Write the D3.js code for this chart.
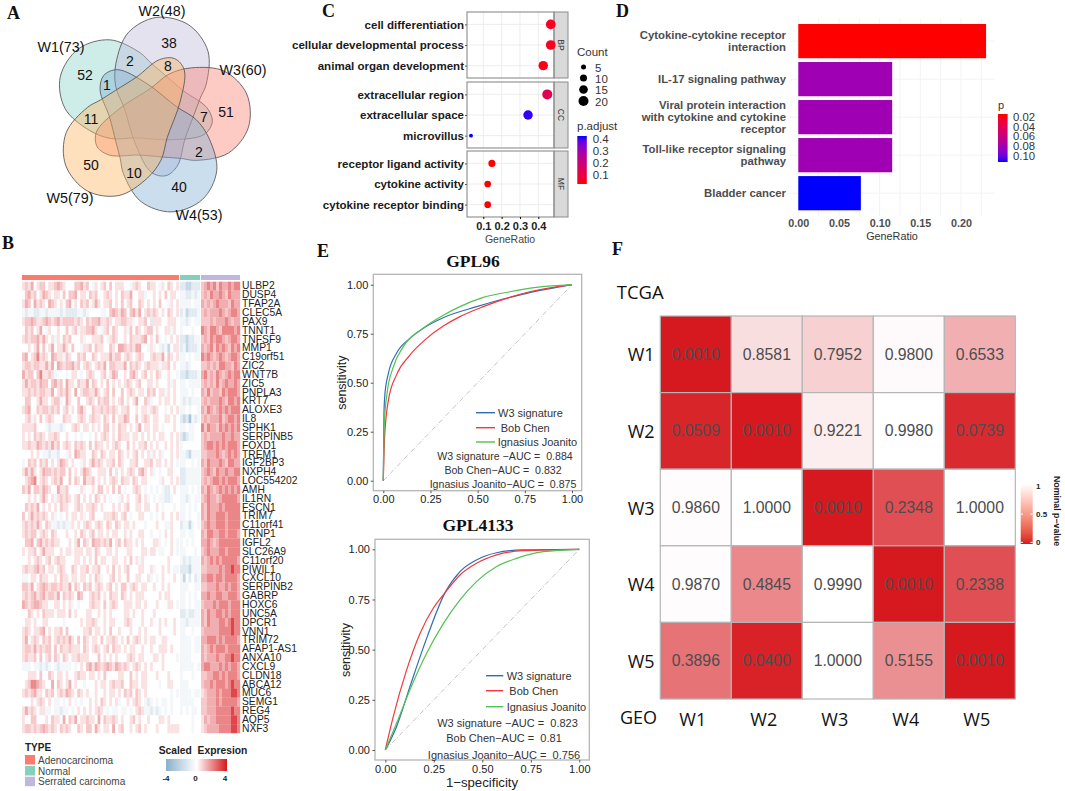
<!DOCTYPE html>
<html><head><meta charset="utf-8">
<script src="https://d3js.org/d3.v7.min.js"></script>
<style>
html,body{margin:0;padding:0;background:#fff}
text{font-family:"Liberation Sans",Arial,sans-serif;white-space:pre}
.panel{font-family:"Liberation Serif",serif;font-weight:bold;font-size:18px;fill:#111}
.axis .domain{display:none}
</style></head><body><svg id="c" width="1065" height="791" xmlns="http://www.w3.org/2000/svg"></svg>
<script>
// ---------- A: Venn ----------
const vennSets=["W1(73)","W2(48)","W3(60)","W4(53)","W5(79)"];
const vennColors=["#8dd3c7","#bebada","#fb8072","#80b1d3","#fdb462"];
const vennAngles=[303,13,87,158,230];
const vennPetal=[[-165,-85],[-165,-40],[-94,25],[4,82],[62,122],[130,137],[227,122],[291,50],[291,-50],[227,-124],[130,-141],[85,-133],[32,-126],[-43,-116],[-128,-112]];
const vennCounts=[["52",85,75],["38",169,43],["2",130,61],["8",168,66],["1",107,85],["7",204,117],["51",226,112],["11",91,119],["2",199,152],["50",91,165],["10",134,173],["40",179,187]];
const vennLabelPos=[[61,47],[162,11],[243,70],[199,215],[70,198]];
// ---------- B: heatmap (cell levels are visual estimates, 0=deep blue, 4=white, 9=deep red) ----------
const genes=["ULBP2","DUSP4","TFAP2A","CLEC5A","PAX9","TNNT1","TNFSF9","MMP1","C19orf51","ZIC2","WNT7B","ZIC5","PNPLA3","KRT7","ALOXE3","IL8","SPHK1","SERPINB5","FOXD1","TREM1","IGF2BP3","NXPH4","LOC554202","AMH","IL1RN","FSCN1","TRIM7","C11orf41","TRNP1","IGFL2","SLC26A9","C11orf20","PIWIL1","CXCL10","SERPINB2","GABRP","HOXC6","UNC5A","DPCR1","VNN1","TRIM72","AFAP1-AS1","ANXA10","CXCL9","CLDN18","ABCA12","MUC6","SEMG1","REG4","AQP5","NXF3"];
const heatLevelValues=[-3,-2,-1,-.4,0,.5,.95,1.4,2.1,3.2];
const heatGroups=["Adenocarcinoma","Normal","Serrated carcinoma"];
const heatGroupColors=["#fb7b6f","#85d0bd","#bfb8dc"];
const adenoRows=[
"565745664556765444667564354564645554435654465543546545",
"467564576545546466745546564456545465574455344545464554",
"576475654765454674546564575455645464564465454546443545",
"323322332333323222233234444334676576467574565654546545",
"566765567656756666565465667556545566553455642555445554",
"465645743544544645635566754356465445364654566454455354",
"565667575453546564445344555643565445465556745463434545",
"445457464574557546443556465544654776565774435343231455",
"674568565476553654465644654555756645654565445655746545",
"566566557574765667564565456574665557465654565553556454",
"756646855653444345543456544564576445467545645465445443",
"575665766467564755465574654546454545654564455454445354",
"556565665574565754745665575456464464565455465645535454",
"466445755456634754464456546566454564545744653445455454",
"567446566565645645467544655656565455644545535654434545",
"456354645654446554456545655465464557644645654554455454",
"555564443233323445654554545466454655454574554554344454",
"545465654556544544343443454565454655545545454545544545",
"556557656575645654656546465545456544645455645454454545",
"444545433233244354765544654654554654545645453545344545",
"346564656454576545443545756545564654455644556455454543",
"575754576656566464545765445554645454565467545343445544",
"456784565456574464654755645454565465546545544443544545",
"657466576544755644445344546645464643445654343434322454",
"445454575453565654564545465454344354544564534343322344",
"465657454545465544565455654544454545644554554454344434",
"645756565453434545545345644455565456434455443434544545",
"565657546533232335454565456546546545545444344454433544",
"565664565465444544546545645545455445454455443443454544",
"466746756565544454574654766565745646554545444553434543",
"545564575554454554555455465445545444554445545543344543",
"445456545645655444554545464554455445464535444444445444",
"565567564554565446545564556445464545644455445344545433",
"334554655445465545545545465344564544644554453434544454",
"665745676566565574654656456545645466456545544544545444",
"565675675665746565476445656454655465454555444445455444",
"765677655445545453434445655464565445554554544454445543",
"446545465554555464544455445454544445545445444544444444",
"455454455444443444445455654454554445654445445445454454",
"565455674545564644444556455454644544454454544445444454",
"574565465645656575464654554645565454645654545544554444",
"566575656646465565554654565456465545455445445445554544",
"565564645646546545565554446454545444565455444554544443",
"333433232343233334345467576567657656545654545444544444",
"445554644654554544565545545464444554464545544454445444",
"456887654474654574544344454554565564465545544443445544",
"565675546564565765465454454454554546564654544444444343",
"444545654543343454343445454654545344545654323434334344",
"575654553343323343454545456543433433434565332323434344",
"544664445465547465745565547465565454456454454445545444",
"566565676565465654465466475455474564454564544454445555"];
const normalRows=[
"2211222","3322323","3333433","2312223","3323433","3444344","2212233","2312223","3343433","3323444","2212223","3343333","3334344","3232333","3343443","2120323","3343344","2123344","3444444","3321333","3344343","2233333","2233333","3334343","3323433","3343434","3343443","2331343","3343344","3434344","3344434","3232333","2221333","3142423","3334433","3343434","3343433","2232233","3323333","3344344","3333433","3333433","3333444","3333343","3444344","3334444","3333433","3333344","3434334","4444344","4444344"];
const serratedRows=[
"6787868778788","6768778768777","7676787776877","6767778767887","6667677787677","8768876888878","6768788767887","7678687876878","8787678767887","6676768877687","7867687678788","6767686787787","7686776878887","6767778768878","7687678787888","6767778678878","8687768787878","6767777877877","6788787878887","6677787678787","7687778768877","6787687787788","6767887878887","7687678787878","6787767888887","7687778788888","7687788878888","6787788878888","7688778878887","7787678888888","6787778878888","7678787888887","6677778788988","7788788788887","6677787787887","7787788778887","6777878887888","7687788787888","7687778878988","6777778888988","7788878788887","7678788878888","7677787788988","7887778787887","6677887878887","6778788878988","5677787888998","6677787888887","6677788888988","5767788888998","5677778888998"];
// ---------- C: dot plot ----------
const dotFacets=["BP","CC","MF"];
const dotTerms=[["cell differentiation","cellular developmental process","animal organ development"],["extracellular region","extracellular space","microvillus"],["receptor ligand activity","cytokine activity","cytokine receptor binding"]];
const dotRatio=[[.468,.468,.427],[.449,.344,.033],[.147,.124,.124]];
const dotCount=[[19,19,18],[20,18,3],[10,9,9]];
const dotPadj=[[.04,.04,.03],[.12,.42,.43],[.01,.01,.01]];
const dotTicks=[.1,.2,.3,.4];
const countLegend=[5,10,15,20];
const padjLegend=[.4,.3,.2,.1];
// ---------- D: bar chart ----------
const barTerms=["Cytokine-cytokine receptor\ninteraction","IL-17 signaling pathway","Viral protein interaction\nwith cytokine and cytokine\nreceptor","Toll-like receptor signaling\npathway","Bladder cancer"];
const barRatio=[.2308,.1154,.1154,.1154,.0769];
const barP=[.01,.079,.079,.079,.11];
const barTicks=[0,.05,.1,.15,.2];
const barPLegend=[.02,.04,.06,.08,.10];
// ---------- E: ROC ----------
const rocNames=["W3 signature","Bob Chen","Ignasius Joanito"];
const rocColors=["#2f6db3","#f2383c","#52c152"];
const roc1=[
[[0,0],[.0035,.344],[.009,.446],[.027,.548],[.07,.65],[.14,.726],[.21,.777],[.32,.833],[.495,.888],[.583,.913],[.76,.956],[1,1]],
[[0,0],[.007,.224],[.027,.41],[.07,.54],[.14,.64],[.23,.726],[.32,.79],[.406,.837],[.53,.888],[.636,.925],[.76,.96],[1,1]],
[[0,0],[.005,.29],[.02,.446],[.053,.58],[.106,.684],[.21,.777],[.32,.845],[.406,.888],[.53,.935],[.67,.964],[.81,.986],[1,1]]];
const roc2=[
[[0,0],[.058,.116],[.127,.316],[.213,.556],[.308,.784],[.385,.889],[.47,.947],[.574,.983],[.71,.997],[1,1]],
[[0,0],[.041,.166],[.11,.399],[.179,.581],[.247,.706],[.308,.784],[.385,.872],[.47,.93],[.574,.972],[.71,.993],[1,1]],
[[0,0],[.058,.133],[.127,.3],[.213,.482],[.3,.631],[.385,.748],[.47,.839],[.574,.914],[.677,.955],[.814,.988],[1,1]]];
const rocAuc1=["W3 signature −AUC =  0.884","Bob Chen−AUC =  0.832","Ignasius Joanito−AUC =  0.875"];
const rocAuc2=["W3 signature −AUC =  0.823","Bob Chen−AUC =  0.81","Ignasius Joanito−AUC =  0.756"];
const rocTicks=[0,.25,.5,.75,1];
// ---------- F: matrix ----------
const subclasses=["W1","W2","W3","W4","W5"];
const pMatrix=[[.0010,.8581,.7952,.9800,.6533],[.0509,.0010,.9221,.9980,.0739],[.9860,1,.0010,.2348,1],[.9870,.4845,.9990,.0010,.2338],[.3896,.0400,1,.5155,.0010]];
const pLegend=[1,.5,0];

const svg=d3.select("#c");
const defs=svg.append("defs");
function txt(g,s,x,y,o={}){const t=g.append("text").attr("x",x).attr("y",y).attr("dominant-baseline","central").attr("font-size",o.size||11).attr("font-weight",o.bold?"bold":"normal").attr("text-anchor",o.anchor||"start").attr("fill",o.fill||"#222").text(s);if(o.family)t.style("font-family",o.family);return t}
function grad(id,a,b){const g=defs.append("linearGradient").attr("id",id).attr("x1",0).attr("x2",0).attr("y1",0).attr("y2",1);const f=d3.interpolateLab(a,b);d3.range(0,1.01,.1).forEach(t=>g.append("stop").attr("offset",t).attr("stop-color",f(t)))}
[["A",7,19],["B",2,249],["C",322,17],["D",616,17],["E",317,257],["F",612,255]].forEach(p=>svg.append("text").attr("class","panel").attr("x",p[1]).attr("y",p[2]).text(p[0]));

// A
(function(){
 const g=svg.append("g"),cx=150.7,cy=115.7,k=1/3;
 const line=d3.line().curve(d3.curveCatmullRomClosed.alpha(.5));
 vennAngles.forEach((deg,i)=>{const t=deg*Math.PI/180,s=Math.sin(t),c=Math.cos(t);
  g.append("path").attr("d",line(vennPetal.map(([u,v])=>[cx+(u*s-v*c)*k,cy+(-u*c-v*s)*k]))).attr("fill",vennColors[i]).attr("fill-opacity",.42).attr("stroke","#555").attr("stroke-opacity",.85).attr("stroke-width",1);});
 vennCounts.forEach(d=>txt(g,d[0],d[1],d[2],{size:14,anchor:"middle",fill:"#111"}));
 vennSets.forEach((d,i)=>txt(g,d,vennLabelPos[i][0],vennLabelPos[i][1],{size:14.3,anchor:"middle",fill:"#111"}));
})();

// B
(function(){
 const g=svg.append("g");
 const y=d3.scaleBand().domain(genes).range([281.7,733]);
 const color=d3.scaleLinear().domain([-4,0,4]).range(["#8ab0cc","#ffffff","#d7181c"]);
 const extents=[[22,179],[180,200],[201,240]];
 [adenoRows,normalRows,serratedRows].forEach((rows,gi)=>{
  const [a,b]=extents[gi];
  g.append("rect").attr("x",a).attr("y",275).attr("width",b-a).attr("height",5).attr("fill",heatGroupColors[gi]);
  rows.forEach((r,ri)=>{
   const x=d3.scaleLinear().domain([0,r.length]).range([a,b]);
   g.selectAll(null).data(r.split("")).join("rect").attr("x",(d,i)=>x(i)).attr("y",y(genes[ri])).attr("width",x(1)-x(0)+.2).attr("height",y.bandwidth()+.2).attr("fill",d=>color(heatLevelValues[+d]));
  });
 });
 const ax=g.append("g").attr("class","axis").attr("transform","translate(240,0)").call(d3.axisRight(y).tickSize(0).tickPadding(2));
 ax.selectAll("text").attr("font-size",10.3).attr("fill","#222");
 txt(g,"TYPE",25,747,{size:10,bold:true});
 heatGroups.forEach((n,i)=>{const yy=[755,766,776.7][i];
  g.append("rect").attr("x",25).attr("y",yy).attr("width",10).attr("height",9.5).attr("fill",heatGroupColors[i]);
  txt(g,n,38,yy+5,{size:10,fill:"#444"});});
 txt(g,"Scaled  Expresion",158.7,750,{size:10.3,bold:true});
 defs.append("linearGradient").attr("id","exprG").selectAll("stop").data(d3.range(-4,4.01,.5)).join("stop").attr("offset",d=>(d+4)/8).attr("stop-color",d=>color(d));
 g.append("rect").attr("x",166).attr("y",759).attr("width",61).attr("height",12).attr("fill","url(#exprG)");
 const lg=d3.scaleLinear().domain([-4,4]).range([166,225]);
 [-4,0,4].forEach(d=>txt(g,d,lg(d),778,{size:8,bold:true,anchor:"middle"}));
})();

// C
(function(){
 const g=svg.append("g"),L=467,R=554,S=568;
 const facetY=[[12,78],[82,148],[151,217]];
 const x=d3.scaleLinear().domain([.1,.4]).range([483.3,538.3]);
 const r=d3.scaleSqrt().domain([0,20]).range([0,5]);
 const col=d3.scaleLinear().domain([.01,.43]).range(["#ff0000","#0000ff"]).interpolate(d3.interpolateLab);
 dotFacets.forEach((f,i)=>{
  const [t,b]=facetY[i];
  const y=d3.scalePoint().domain(dotTerms[i]).range([t,b]).padding(.6);
  g.selectAll(null).data(dotTicks).join("line").attr("x1",x).attr("x2",x).attr("y1",t).attr("y2",b).attr("stroke","#ededed");
  g.selectAll(null).data(dotTerms[i]).join("line").attr("x1",L).attr("x2",R).attr("y1",y).attr("y2",y).attr("stroke","#ededed");
  g.append("rect").attr("x",R).attr("y",t).attr("width",S-R).attr("height",b-t).attr("fill","#d9d9d9").attr("stroke","#8c8c8c");
  g.append("rect").attr("x",L).attr("y",t).attr("width",R-L).attr("height",b-t).attr("fill","none").attr("stroke","#8c8c8c").attr("stroke-width",1.1);
  const sy=(t+b)/2;
  g.append("text").attr("transform",`translate(${R+7},${sy}) rotate(90)`).attr("text-anchor","middle").attr("dominant-baseline","central").attr("font-size",8.5).attr("fill","#333").text(f);
  const ax=g.append("g").attr("class","axis").attr("transform",`translate(${L},0)`).call(d3.axisLeft(y).tickSize(2).tickPadding(1));
  ax.selectAll("text").attr("font-size",11.55).attr("font-weight","bold").attr("fill","#1a1a1a");
  ax.selectAll("line").attr("stroke","#555");
  g.selectAll(null).data(dotTerms[i]).join("circle").attr("cx",(d,j)=>x(dotRatio[i][j])).attr("cy",d=>y(d)).attr("r",(d,j)=>r(dotCount[i][j])).attr("fill",(d,j)=>col(dotPadj[i][j]));
 });
 const ax=g.append("g").attr("class","axis").attr("transform","translate(0,217)").call(d3.axisBottom(x).tickValues(dotTicks).tickFormat(d3.format(".1f")).tickSize(2).tickPadding(3));
 ax.selectAll("text").attr("font-size",11).attr("font-weight","bold").attr("fill","#222");
 txt(g,"GeneRatio",510,239,{size:10.5,anchor:"middle",fill:"#444"});
 txt(g,"Count",577,51.5,{size:11.5,fill:"#333"});
 countLegend.forEach((c,i)=>{const yy=[67,78,89.5,101][i];
  g.append("circle").attr("cx",583.5).attr("cy",yy).attr("r",r(c)).attr("fill","#000");
  txt(g,c,595,yy+.5,{size:11.5,fill:"#333"});});
 txt(g,"p.adjust",577,125.5,{size:11.5,fill:"#333"});
 grad("padjG","#0000ff","#ff0000");
 g.append("rect").attr("x",577.3).attr("y",136).attr("width",9.5).attr("height",48).attr("fill","url(#padjG)");
 padjLegend.forEach((v,i)=>txt(g,v.toFixed(1),592.7,[139.3,151,163,174.5][i],{size:11.5,fill:"#333"}));
})();

// D
(function(){
 const g=svg.append("g");
 const x=d3.scaleLinear().domain([0,.2]).range([798.3,961]);
 const y=d3.scaleBand().domain(barTerms).range([24,210.3]).paddingInner(.1).paddingOuter(0);
 const col=d3.scaleLinear().domain([.01,.11]).range(["#ff0000","#0000ff"]).interpolate(d3.interpolateLab);
 g.selectAll(null).data(d3.range(0,.25,.025)).join("line").attr("x1",x).attr("x2",x).attr("y1",18).attr("y2",216).attr("stroke","#f3f3f3");
 g.selectAll(null).data(barTerms).join("line").attr("x1",790).attr("x2",995).attr("y1",d=>y(d)+y.bandwidth()/2).attr("y2",d=>y(d)+y.bandwidth()/2).attr("stroke","#f3f3f3");
 g.selectAll(null).data(barTerms).join("rect").attr("x",x(0)).attr("y",d=>y(d)).attr("height",y.bandwidth()).attr("width",(d,i)=>x(barRatio[i])-x(0)).attr("fill",(d,i)=>col(barP[i]));
 barTerms.forEach(t=>{const ls=t.split("\n"),c=y(t)+y.bandwidth()/2;
  ls.forEach((l,i)=>txt(g,l,786,c+(i-(ls.length-1)/2)*12,{size:11.35,bold:true,anchor:"end",fill:"#4d4d4d"}));});
 const ax=g.append("g").attr("class","axis").attr("transform","translate(0,216)").call(d3.axisBottom(x).tickValues(barTicks).tickFormat(d3.format(".2f")).tickSize(0).tickPadding(3));
 ax.selectAll("text").attr("font-size",10.8).attr("font-weight","bold").attr("fill","#4d4d4d");
 txt(g,"GeneRatio",892,236,{size:10.8,anchor:"middle",fill:"#333"});
 txt(g,"p",998,105,{size:11,fill:"#333"});
 grad("pG","#ff0000","#0000ff");
 g.append("rect").attr("x",998).attr("y",114).attr("width",9.6).attr("height",48).attr("fill","url(#pG)");
 barPLegend.forEach((v,i)=>txt(g,v.toFixed(2),1013,116.7+i*9.85,{size:11.3,fill:"#333"}));
})();

// E
function roc(o){
 const g=svg.append("g");
 const x=d3.scaleLinear().domain([0,1]).range(o.xr),y=d3.scaleLinear().domain([0,1]).range(o.yr);
 g.append("text").attr("x",o.title[1]).attr("y",o.title[2]).attr("text-anchor","middle").style("font-family","'Liberation Serif',serif").attr("font-weight","bold").attr("font-size",17.5).attr("fill","#111").text(o.title[0]);
 g.append("rect").attr("x",o.box[0]).attr("y",o.box[1]).attr("width",o.box[2]-o.box[0]).attr("height",o.box[3]-o.box[1]).attr("fill","none").attr("stroke","#b5b5b5").attr("stroke-width",1.3);
 g.append("line").attr("x1",x(0)).attr("y1",y(0)).attr("x2",x(1)).attr("y2",y(1)).attr("stroke","#c4c4c4").attr("stroke-dasharray","5 2 1 2");
 const ln=d3.line().x(d=>x(d[0])).y(d=>y(d[1])).curve(d3.curveMonotoneX);
 o.data.forEach((c,i)=>g.append("path").attr("d",ln(c)).attr("fill","none").attr("stroke",rocColors[i]).attr("stroke-width",1.2));
 const f=d3.format(".2f");
 const ax=g.append("g").attr("class","axis").attr("transform",`translate(0,${o.box[3]})`).call(d3.axisBottom(x).tickValues(rocTicks).tickFormat(f).tickSize(2.5).tickPadding(2.5));
 const ay=g.append("g").attr("class","axis").attr("transform",`translate(${o.box[0]},0)`).call(d3.axisLeft(y).tickValues(rocTicks).tickFormat(f).tickSize(2.5).tickPadding(2.5));
 [ax,ay].forEach(a=>{a.selectAll("text").attr("font-size",11).attr("fill","#222");a.selectAll("line").attr("stroke","#555")});
 g.append("text").attr("transform",`translate(${o.ylab[0]},${o.ylab[1]}) rotate(-90)`).attr("text-anchor","middle").attr("dominant-baseline","central").attr("font-size",12.5).attr("fill","#222").text("sensitivity");
 rocNames.forEach((n,i)=>{
  g.append("line").attr("x1",o.leg[0]).attr("x2",o.leg[1]).attr("y1",o.legY[i]).attr("y2",o.legY[i]).attr("stroke",rocColors[i]).attr("stroke-width",1.4);
  txt(g,n,o.legX[i],o.legY[i],{size:o.legSize,fill:"#333"});
  txt(g,o.auc[i],o.aucX[i],o.aucY[i],{size:o.aucSize,fill:"#333",anchor:"middle"});
 });
}
roc({xr:[383.3,572],yr:[480.7,284.7],box:[373.3,274.3,581.7,490.7],title:["GPL96",473,267],data:roc1,ylab:[341.7,382.7],leg:[476,495],legY:[412.7,427.7,442],legX:[498,500.7,497.7],auc:rocAuc1,aucX:[505,503,503],aucY:[456,470,484.3],legSize:11,aucSize:10.6});
roc({xr:[385.3,579.3],yr:[750,549.3],box:[375,539.3,589.3,760],title:["GPL4133",478,530.7],data:roc2,ylab:[345.7,650],leg:[486,503.3],legY:[675.7,690.7,706.7],legX:[506.7,509.3,506.7],auc:rocAuc2,aucX:[507.5,504,504],aucY:[722.7,738,755],legSize:11,aucSize:11});
txt(svg,"1−specificity",482,782.7,{size:13.2,anchor:"middle"});

// F
(function(){
 const g=svg.append("g");
 const x=d3.scaleBand().domain(subclasses).range([660.3,1015.3]);
 const y=d3.scaleBand().domain(subclasses).range([316,699]);
 const col=d3.scaleLinear().domain([0,1]).range(["#d6191f","#ffffff"]);
 pMatrix.forEach((row,ri)=>{
  g.selectAll(null).data(row).join("rect").attr("x",(d,i)=>x(subclasses[i])).attr("y",y(subclasses[ri])).attr("width",x.bandwidth()).attr("height",y.bandwidth()).attr("fill",d=>col(d)).attr("stroke","#b5b5b5").attr("stroke-width",1.2);
  row.forEach((v,i)=>txt(g,v.toFixed(4),x(subclasses[i])+x.bandwidth()/2,y(subclasses[ri])+y.bandwidth()/2,{size:15.8,anchor:"middle",fill:"#4d4d4d"}));
 });
 const fam="'Open Sans',sans-serif";
 subclasses.forEach(s=>{
  txt(g,s,627.7,y(s)+y.bandwidth()/2,{size:18,family:fam,fill:"#111"});
  txt(g,s,x(s)+x.bandwidth()/2-3,719,{size:18,family:fam,fill:"#111",anchor:"middle"});
 });
 txt(g,"TCGA",616.7,291.7,{size:18.5,family:fam,fill:"#111"});
 txt(g,"GEO",620,717,{size:18,family:fam,fill:"#111"});
 const ly=d3.scaleLinear().domain([1,0]).range([486,542.3]);
 grad("nomG","#ffffff","#d6191f");
 g.append("rect").attr("x",1020.7).attr("y",484).attr("width",12).attr("height",60).attr("fill","url(#nomG)");
 pLegend.forEach(v=>{
  txt(g,v,1036,ly(v),{size:8,bold:true});
  g.append("line").attr("x1",1020.7).attr("x2",1023).attr("y1",ly(v)).attr("y2",ly(v)).attr("stroke","#fff");
  g.append("line").attr("x1",1030.4).attr("x2",1032.7).attr("y1",ly(v)).attr("y2",ly(v)).attr("stroke","#fff");
 });
 g.append("text").attr("transform","translate(1057,511) rotate(90)").attr("text-anchor","middle").attr("dominant-baseline","central").attr("font-size",8.8).attr("font-weight","bold").attr("fill","#222").text("Nominal p−value");
})();
</script></body></html>
